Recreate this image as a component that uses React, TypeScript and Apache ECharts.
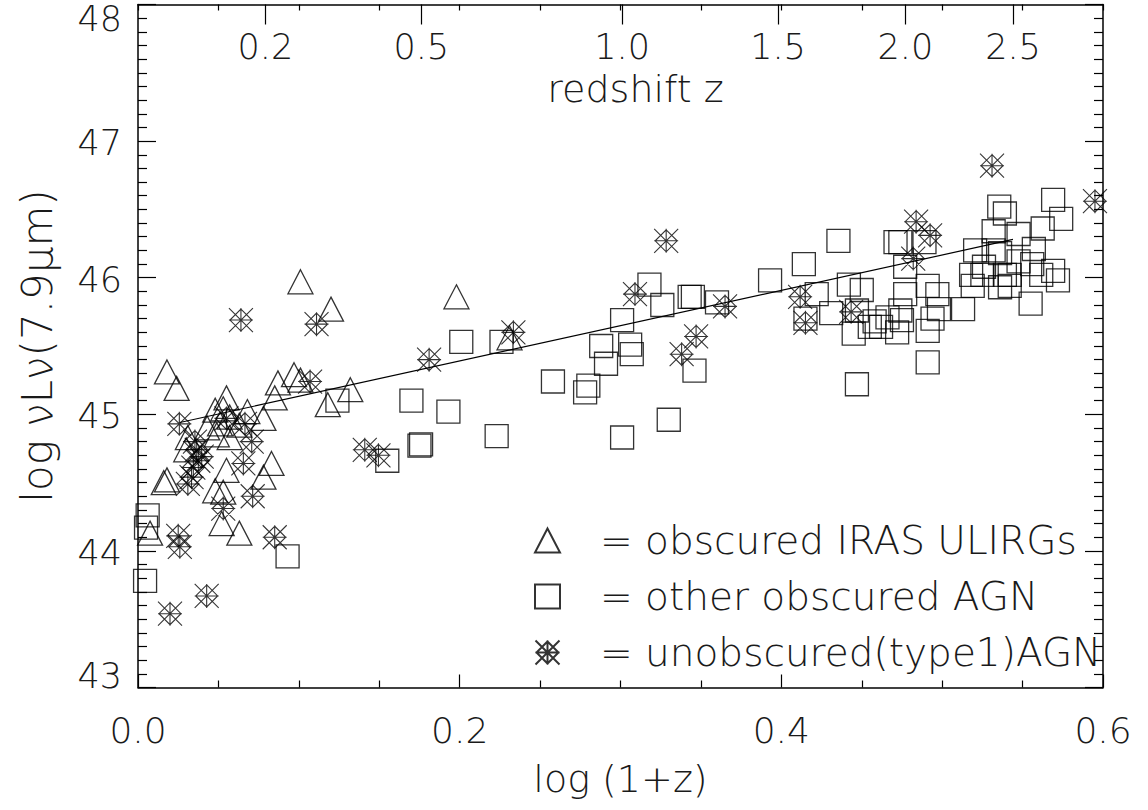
import React, { useEffect, useRef } from "react";
import * as echarts from "echarts";

// ---- data ----
const ulirgs: number[][] = [
  [0.101, 45.97], [0.120, 45.77], [0.018, 45.31], [0.024, 45.19], [0.097, 45.29],
  [0.087, 45.23], [0.085, 45.12], [0.101, 45.25], [0.132, 45.18], [0.118, 45.07],
  [0.055, 45.12], [0.053, 45.04], [0.048, 45.03], [0.068, 45.02], [0.057, 44.98],
  [0.051, 44.93], [0.049, 44.85], [0.057, 44.83], [0.043, 44.90], [0.063, 44.92],
  [0.031, 44.83], [0.030, 44.74], [0.078, 44.97], [0.018, 44.52], [0.016, 44.50],
  [0.083, 44.64], [0.078, 44.54], [0.055, 44.59], [0.048, 44.44], [0.0075, 44.13],
  [0.053, 44.43], [0.052, 44.20], [0.063, 44.13], [0.198, 45.86], [0.231, 45.56],
];

const otherAgn: number[][] = [
  [0.006, 44.26], [0.005, 44.17], [0.0044, 43.78], [0.093, 43.96], [0.124, 45.10],
  [0.170, 45.10], [0.175, 44.77], [0.155, 44.66], [0.201, 45.53], [0.226, 45.53],
  [0.193, 45.02], [0.176, 44.78], [0.223, 44.84], [0.258, 45.24], [0.280, 45.21],
  [0.278, 45.16], [0.301, 44.83], [0.330, 44.96], [0.288, 45.50], [0.291, 45.37],
  [0.306, 45.51], [0.307, 45.44], [0.301, 45.69], [0.318, 45.95], [0.326, 45.80],
  [0.343, 45.86], [0.345, 45.86], [0.360, 45.82], [0.346, 45.32], [0.393, 45.98],
  [0.4355, 46.27], [0.414, 46.10], [0.422, 45.88], [0.431, 45.74], [0.415, 45.70],
  [0.442, 45.95], [0.450, 45.91], [0.447, 45.76], [0.445, 45.59], [0.447, 45.22],
  [0.455, 45.64], [0.458, 45.68], [0.462, 45.64], [0.466, 45.71], [0.472, 45.60],
  [0.471, 46.26], [0.474, 46.26], [0.477, 46.08], [0.477, 45.88], [0.474, 45.76],
  [0.475, 45.69], [0.491, 45.94], [0.497, 45.88], [0.498, 45.77], [0.494, 45.70],
  [0.491, 45.61], [0.489, 46.26], [0.491, 45.38], [0.513, 45.77], [0.5205, 46.20],
  [0.518, 46.02], [0.519, 45.94], [0.525, 46.02], [0.526, 46.08], [0.532, 46.34],
  [0.5355, 46.52], [0.539, 46.47], [0.532, 46.20], [0.536, 46.18], [0.539, 46.02],
  [0.536, 45.93], [0.542, 45.94], [0.5475, 46.32], [0.5475, 46.12], [0.556, 46.10],
  [0.557, 46.21], [0.5625, 46.36], [0.569, 46.57], [0.574, 46.43], [0.5616, 46.02],
  [0.569, 46.05], [0.572, 45.98], [0.542, 46.02], [0.555, 45.81],
];

const type1Agn: number[][] = [
  [0.064, 45.69], [0.111, 45.66], [0.107, 45.24], [0.0257, 44.93], [0.181, 45.40],
  [0.141, 44.74], [0.1495, 44.70], [0.0665, 44.93], [0.0707, 44.80], [0.0655, 44.64],
  [0.0354, 44.80], [0.0365, 44.74], [0.0375, 44.66], [0.0344, 44.61], [0.0333, 44.54],
  [0.0396, 44.69], [0.031, 44.49], [0.055, 44.97], [0.0713, 44.40], [0.053, 44.31],
  [0.025, 44.11], [0.026, 44.03], [0.085, 44.10], [0.0427, 43.67], [0.0199, 43.54],
  [0.2334, 45.60], [0.3284, 46.27], [0.309, 45.88], [0.365, 45.79], [0.347, 45.57],
  [0.338, 45.44], [0.4117, 45.86], [0.415, 45.67], [0.4434, 45.75], [0.4838, 46.41],
  [0.4925, 46.31], [0.482, 46.14], [0.531, 46.82], [0.595, 46.56],
];

const fitLine: number[][] = [[0.026, 44.94], [0.544, 46.28]];

const seriesNames = ["obscured IRAS ULIRGs", "other obscured AGN", "unobscured(type1)AGN"];
const redshiftTicks = [0.2, 0.5, 1.0, 1.5, 2.0, 2.5];
const redshiftLabels = ["0.2", "0.5", "1.0", "1.5", "2.0", "2.5"];
const xTickLabels = ["0.0", "0.2", "0.4", "0.6"];

const FONT = "'DejaVu Sans', sans-serif";
const INK = "#1a1a1a";
const ASTERISK =
  "path://M0 0L24 24M24 0L0 24M12 0L12 24M0 12L24 12M12 1L23 12L12 23L1 12Z";

export default function App() {
  const ref = useRef<HTMLDivElement>(null);
  useEffect(() => {
    if (!ref.current) return;
    const chart = echarts.init(ref.current, null, { renderer: "svg" });
    const zPos = redshiftTicks.map((z) => Math.log10(1 + z));
    const line = { color: "#000", width: 1.5 };
    const tickLine = { color: "#000", width: 1.2 };
    const markerStyle = { color: "rgba(0,0,0,0)", borderColor: "#000", borderWidth: 1.3 };
    const starStyle = { color: "rgba(0,0,0,0)", borderColor: "#000", borderWidth: 1.1 };
    const option: any = {
      animation: false,
      backgroundColor: "#fff",
      textStyle: { fontFamily: FONT, color: INK, fontWeight: 200 },
      grid: { left: 138, right: 45, top: 4.5, bottom: 122.5 },
      legend: {
        orient: "vertical",
        left: 529,
        top: 516,
        itemWidth: 25,
        itemHeight: 24,
        itemGap: 17,
        selectedMode: false,
        data: seriesNames,
        formatter: (n: string) => "= " + n,
        textStyle: { fontFamily: FONT, fontSize: 39, color: INK, fontWeight: 200, padding: [0, 0, 0, 35] },
      },
      xAxis: [
        {
          type: "value", position: "bottom", min: 0, max: 0.6, interval: 0.2,
          axisLine: { show: true, onZero: false, lineStyle: line },
          axisTick: { show: true, inside: true, length: 13, lineStyle: tickLine },
          minorTick: { show: true, splitNumber: 4, length: 7, lineStyle: tickLine },
          splitLine: { show: false },
          axisLabel: {
            formatter: (v: number) => xTickLabels[Math.round(v / 0.2)] ?? v.toFixed(1),
            fontSize: 36, margin: 25, color: INK, fontFamily: FONT, fontWeight: 200,
          },
          name: "log (1+z)", nameLocation: "middle", nameGap: 72,
          nameTextStyle: { fontSize: 38, color: INK, fontFamily: FONT, fontWeight: 200 },
        },
        {
          type: "value", position: "top", min: 0, max: 0.6, interval: 0.05,
          axisLine: { show: true, onZero: false, lineStyle: line },
          axisTick: { show: true, inside: true, length: 6, lineStyle: tickLine },
          axisLabel: { show: false },
          splitLine: { show: false },
        },
        {
          type: "value", position: "top", min: 0, max: 0.6,
          axisLine: { show: false, onZero: false },
          axisTick: { show: true, inside: true, length: 20, lineStyle: tickLine, customValues: zPos },
          axisLabel: {
            inside: true, customValues: zPos, margin: 25, fontSize: 35, color: INK, fontFamily: FONT, fontWeight: 200,
            formatter: (v: number) => {
              let best = 0;
              zPos.forEach((p, i) => { if (Math.abs(p - v) < Math.abs(zPos[best] - v)) best = i; });
              return redshiftLabels[best];
            },
          },
          splitLine: { show: false },
          name: "redshift z", nameLocation: "middle", nameGap: -103,
          nameTextStyle: { fontSize: 38, color: INK, fontFamily: FONT, fontWeight: 200, padding: [0, 0, 0, 30] },
        },
      ],
      yAxis: [
        {
          type: "value", position: "left", min: 43, max: 48, interval: 1,
          axisLine: { show: true, onZero: false, lineStyle: line },
          axisTick: { show: true, inside: true, length: 18, lineStyle: tickLine },
          minorTick: { show: true, splitNumber: 10, length: 9, lineStyle: tickLine },
          splitLine: { show: false },
          axisLabel: {
            margin: 16, fontSize: 35, color: INK, fontFamily: FONT, fontWeight: 200,
            formatter: (v: number) => (v === 48 ? "{t|48}" : v === 43 ? "{b|43}" : "{n|" + v + "}"),
            rich: {
              t: { fontSize: 35, padding: [29, 0, 0, 0], fontFamily: FONT, color: INK, fontWeight: 200 },
              b: { fontSize: 35, padding: [0, 0, 24, 0], fontFamily: FONT, color: INK, fontWeight: 200 },
              n: { fontSize: 35, padding: [4, 0, 0, 0], fontFamily: FONT, color: INK, fontWeight: 200 },
            },
          },
          name: "log \u03BDL\u03BD(7.9\u03BCm)", nameLocation: "middle", nameGap: 80, nameRotate: 90,
          nameTextStyle: { fontSize: 42, color: INK, fontFamily: FONT, fontWeight: 200 },
        },
        {
          type: "value", position: "right", min: 43, max: 48, interval: 1,
          axisLine: { show: true, onZero: false, lineStyle: line },
          axisTick: { show: true, inside: true, length: 18, lineStyle: tickLine },
          minorTick: { show: true, splitNumber: 10, length: 9, lineStyle: tickLine },
          splitLine: { show: false },
          axisLabel: { show: false },
        },
      ],
      series: [
        {
          name: seriesNames[0], type: "scatter", xAxisIndex: 0, yAxisIndex: 0,
          symbol: "triangle", symbolSize: [25, 24], itemStyle: markerStyle, data: ulirgs,
        },
        {
          name: seriesNames[1], type: "scatter", xAxisIndex: 0, yAxisIndex: 0,
          symbol: "rect", symbolSize: 23, itemStyle: markerStyle, data: otherAgn,
        },
        {
          name: seriesNames[2], type: "scatter", xAxisIndex: 0, yAxisIndex: 0,
          symbol: ASTERISK, symbolSize: 24, itemStyle: starStyle, data: type1Agn,
        },
        {
          name: "fit", type: "line", xAxisIndex: 0, yAxisIndex: 0, symbol: "none",
          lineStyle: { color: "#000", width: 1.2 }, data: fitLine,
        },
      ],
    };
    chart.setOption(option);
    return () => chart.dispose();
  }, []);
  return (
    <div
      ref={ref}
      style={{ position: "fixed", left: 0, top: 0, width: 1148, height: 810, background: "#fff" }}
    />
  );
}
